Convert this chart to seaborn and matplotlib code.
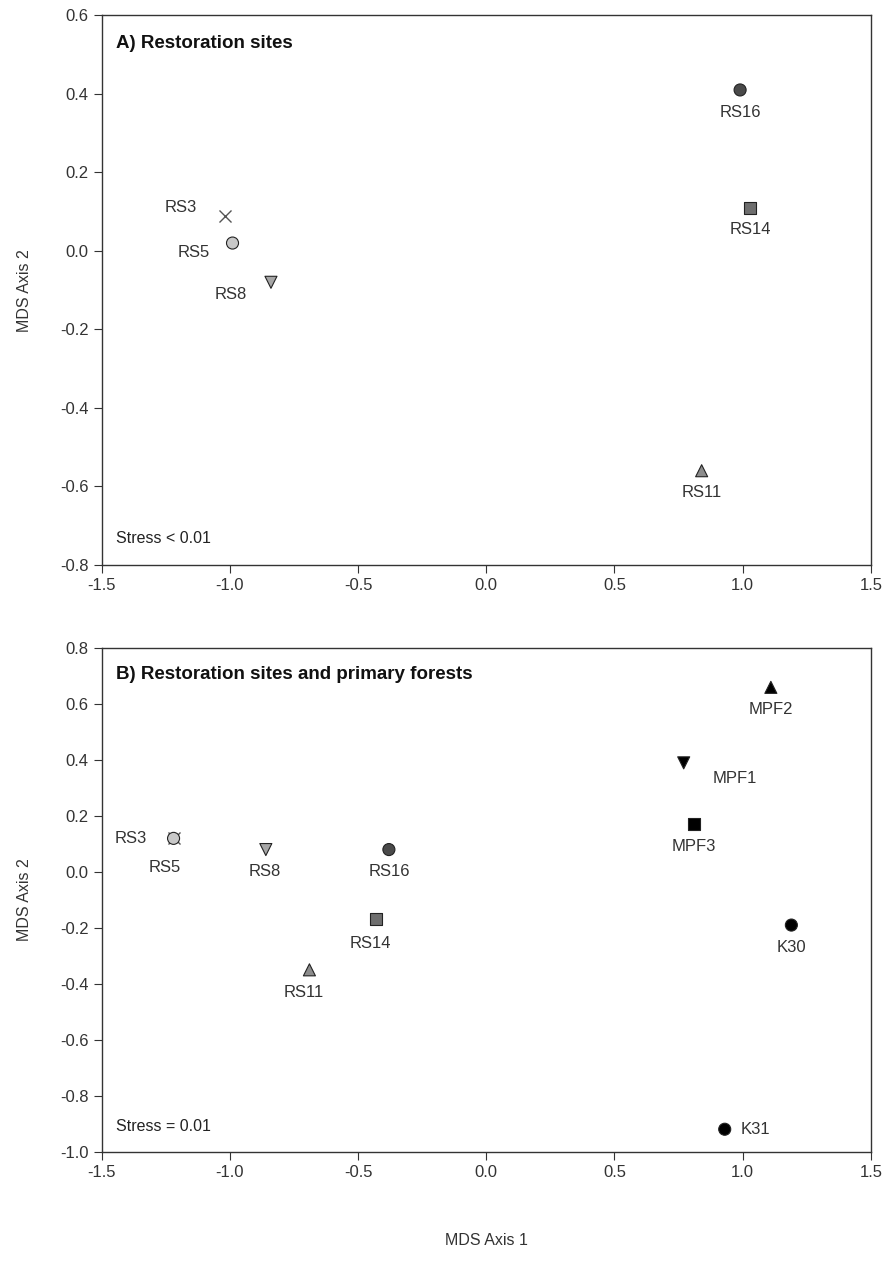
import pandas as pd
import matplotlib
matplotlib.use("Agg")
import matplotlib.pyplot as plt
import seaborn as sns

# panel A: restoration sites only
sitesA = ["RS3", "RS5", "RS8", "RS11", "RS14", "RS16"]
xA = [-1.02, -0.99, -0.84, 0.84, 1.03, 0.99]
yA = [0.09, 0.02, -0.08, -0.56, 0.11, 0.41]

# panel B: restoration sites and primary forests
sitesB = ["RS3", "RS5", "RS8", "RS11", "RS14", "RS16",
          "MPF1", "MPF2", "MPF3", "K30", "K31"]
xB = [-1.22, -1.22, -0.86, -0.69, -0.43, -0.38,
      0.77, 1.11, 0.81, 1.19, 0.93]
yB = [0.12, 0.12, 0.08, -0.35, -0.17, 0.08,
      0.39, 0.66, 0.17, -0.19, -0.92]

xticks = [-1.5, -1.0, -0.5, 0.0, 0.5, 1.0, 1.5]
yticksA = [-0.8, -0.6, -0.4, -0.2, 0.0, 0.2, 0.4, 0.6]
yticksB = [-1.0, -0.8, -0.6, -0.4, -0.2, 0.0, 0.2, 0.4, 0.6, 0.8]

markers = {"RS3": "x", "RS5": "o", "RS8": "v", "RS11": "^", "RS14": "s",
           "RS16": "o", "MPF1": "v", "MPF2": "^", "MPF3": "s",
           "K30": "o", "K31": "o"}
colors = {"RS3": "#555555", "RS5": "#c8c8c8", "RS8": "#a6a6a6",
          "RS11": "#8c8c8c", "RS14": "#6e6e6e", "RS16": "#4a4a4a",
          "MPF1": "#000000", "MPF2": "#000000", "MPF3": "#000000",
          "K30": "#000000", "K31": "#000000"}

# label offsets in points (dx, dy)
offA = {"RS3": (-32, 6), "RS5": (-28, -7), "RS8": (-29, -9),
        "RS11": (0, -16), "RS14": (0, -16), "RS16": (0, -16)}
offB = {"RS3": (-31, 0), "RS5": (-6, -21), "RS8": (-1, -16),
        "RS11": (-4, -16), "RS14": (-4, -17), "RS16": (0, -16),
        "MPF1": (37, -11), "MPF2": (0, -16), "MPF3": (0, -16),
        "K30": (0, -16), "K31": (22, 0)}

sns.set_style("ticks")
plt.rcParams["font.family"] = ["Liberation Sans", "DejaVu Sans"]
plt.rcParams["axes.edgecolor"] = "#333333"
plt.rcParams["xtick.color"] = "#333333"
plt.rcParams["ytick.color"] = "#333333"
plt.rcParams["xtick.labelcolor"] = "#333333"
plt.rcParams["ytick.labelcolor"] = "#333333"

fig = plt.figure(figsize=(8.85, 12.81), dpi=100)
axA = fig.add_axes([0.115, 0.559, 0.869, 0.429])
axB = fig.add_axes([0.115, 0.101, 0.869, 0.393])


def draw(ax, sites, xs, ys, offs, yticks, ylim, title, stress):
    df = pd.DataFrame({"site": sites, "x": xs, "y": ys})
    filled = df[df["site"] != "RS3"]
    present = list(filled["site"])
    sns.scatterplot(data=df[df["site"] == "RS3"], x="x", y="y", marker="x",
                    color=colors["RS3"], s=75, linewidth=1.0, ax=ax,
                    legend=False, zorder=3)
    sns.scatterplot(data=filled, x="x", y="y", hue="site", style="site",
                    palette={k: colors[k] for k in present},
                    markers={k: markers[k] for k in present}, s=75,
                    edgecolor="#222222", linewidth=0.8, ax=ax,
                    legend=False, zorder=4)
    for s, x, y in zip(sites, xs, ys):
        dx, dy = offs[s]
        ax.annotate(s, (x, y), xytext=(dx, dy), textcoords="offset points",
                    ha="center", va="center", fontsize=12, color="#333333")
    ax.set_xlim(-1.5, 1.5)
    ax.set_ylim(*ylim)
    ax.set_xticks(xticks)
    ax.set_xticklabels([f"{t:.1f}" for t in xticks])
    ax.set_yticks(yticks)
    ax.set_yticklabels([f"{t:.1f}" for t in yticks])
    ax.tick_params(direction="out", length=6, width=0.8, labelsize=12)
    for sp in ax.spines.values():
        sp.set_visible(True)
        sp.set_linewidth(1.0)
    ax.set_ylabel("MDS Axis 2", fontsize=11.5, color="#333333", labelpad=20)
    ax.text(0.018, 0.965, title, transform=ax.transAxes, fontsize=13.5,
            fontweight="bold", va="top", ha="left", color="#111111")
    ax.text(0.018, 0.035, stress, transform=ax.transAxes, fontsize=11.5,
            va="bottom", ha="left", color="#222222")


draw(axA, sitesA, xA, yA, offA, yticksA, (-0.8, 0.6),
     "A) Restoration sites", "Stress < 0.01")
axA.set_xlabel("")
draw(axB, sitesB, xB, yB, offB, yticksB, (-1.0, 0.8),
     "B) Restoration sites and primary forests", "Stress = 0.01")
axB.set_xlabel("MDS Axis 1", fontsize=11.5, color="#333333", labelpad=38)

fig.savefig("out.png", dpi=100)
